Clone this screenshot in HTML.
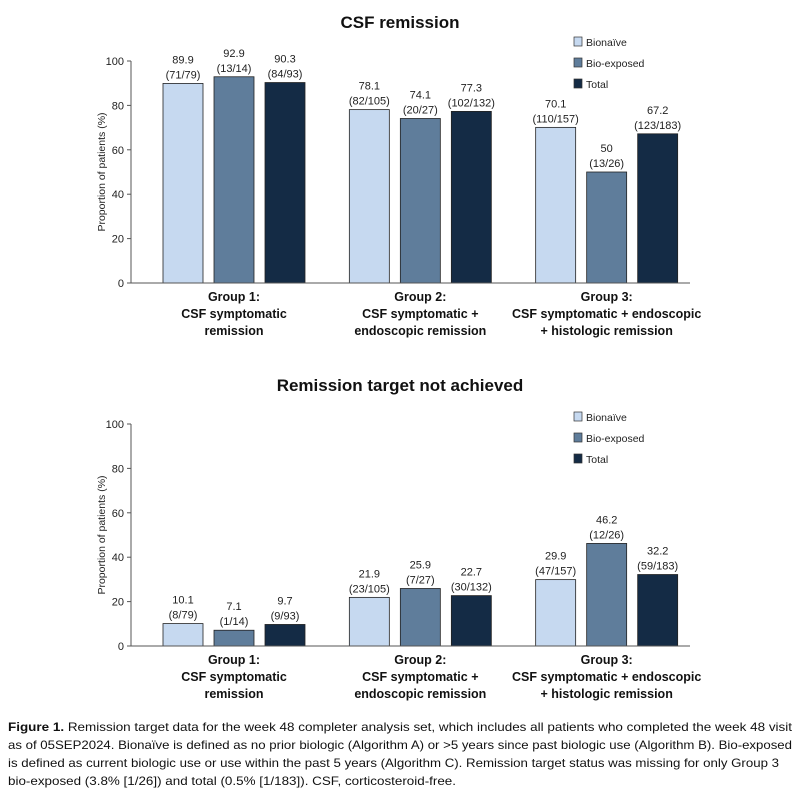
<!DOCTYPE html>
<html><head><meta charset="utf-8"><style>
body{margin:0;background:#fff;}
svg{display:block;font-family:"Liberation Sans",sans-serif;}
</style></head><body>
<svg id="fig" width="800" height="800" viewBox="0 0 800 800" xmlns="http://www.w3.org/2000/svg">
<rect width="800" height="800" fill="#fff"/>
<g id="c1"></g>
<g id="c2"></g>
<g font-size="12" fill="#111">
<text x="8" y="731" textLength="784" lengthAdjust="spacingAndGlyphs"><tspan font-weight="bold">Figure 1.</tspan> Remission target data for the week 48 completer analysis set, which includes all patients who completed the week 48 visit</text>
<text x="8" y="749" textLength="784" lengthAdjust="spacingAndGlyphs">as of 05SEP2024. Bionaïve is defined as no prior biologic (Algorithm A) or &gt;5 years since past biologic use (Algorithm B). Bio-exposed</text>
<text x="8" y="767" textLength="771" lengthAdjust="spacingAndGlyphs">is defined as current biologic use or use within the past 5 years (Algorithm C). Remission target status was missing for only Group 3</text>
<text x="8" y="785" textLength="448" lengthAdjust="spacingAndGlyphs">bio-exposed (3.8% [1/26]) and total (0.5% [1/183]). CSF, corticosteroid-free.</text>
</g>
</svg>
<script>
const groups = [["Group 1:","CSF symptomatic","remission"],["Group 2:","CSF symptomatic +","endoscopic remission"],["Group 3:","CSF symptomatic + endoscopic","+ histologic remission"]];
const seriesNames = ["Bionaïve","Bio-exposed","Total"];
const yTicks = [0,20,40,60,80,100];
const remBionaive = [89.9,78.1,70.1];
const remBioexposed = [92.9,74.1,50];
const remTotal = [90.3,77.3,67.2];
const remFrac = [["(71/79)","(13/14)","(84/93)"],["(82/105)","(20/27)","(102/132)"],["(110/157)","(13/26)","(123/183)"]];
const notBionaive = [10.1,21.9,29.9];
const notBioexposed = [7.1,25.9,46.2];
const notTotal = [9.7,22.7,32.2];
const notFrac = [["(8/79)","(1/14)","(9/93)"],["(23/105)","(7/27)","(30/132)"],["(47/157)","(12/26)","(59/183)"]];
const colors = ["#c6d9f0","#5f7d9b","#142b45"];
const NS="http://www.w3.org/2000/svg";
function mk(p,t,a){const e=document.createElementNS(NS,t);for(const k in a)e.setAttribute(k,a[k]);p.appendChild(e);return e;}
function chart(gid,title,titleY,y0,legY,series,fracs){
  const g=document.getElementById(gid);
  const yS=v=>y0-v*2.22;
  const ax=131, ax2=690, gw=(ax2-ax)/3;
  const xS=(gi,si)=>ax+gi*gw+32+si*51;
  let t=mk(g,'text',{x:400,y:titleY,'text-anchor':'middle','font-size':17,'font-weight':'bold',fill:'#111'});
  
  
  t.textContent=title;
  let yl=mk(g,'text',{transform:`translate(105,${y0-111}) rotate(-90)`,'text-anchor':'middle','font-size':10.5,fill:'#222'});
  
  
  yl.textContent='Proportion of patients (%)';
  yTicks.forEach(v=>{
    mk(g,'line',{x1:ax-4,x2:ax,y1:yS(v),y2:yS(v),stroke:'#555'});
    const tl=mk(g,'text',{x:ax-7,y:yS(v)+4,'text-anchor':'end','font-size':11,fill:'#222'});
    
    
    tl.textContent=v;
  });
  series.forEach((vals,si)=>{
    vals.forEach((v,gi)=>{
      const x=xS(gi,si);
      const r=mk(g,'rect',{x:x,y:yS(v),width:40,height:y0-yS(v),fill:colors[si],stroke:'#222','stroke-width':0.8});
      
      
      const l1=mk(g,'text',{x:x+20,y:yS(v)-20,'text-anchor':'middle','font-size':11,fill:'#222'});
      
      
      l1.textContent=v;
      const l2=mk(g,'text',{x:x+20,y:yS(v)-5,'text-anchor':'middle','font-size':11,fill:'#222'});
      
      
      l2.textContent=fracs[gi][si];
    });
  });
  mk(g,'line',{x1:ax,x2:ax,y1:yS(100),y2:y0,stroke:'#555'});
  mk(g,'line',{x1:ax,x2:ax2,y1:y0,y2:y0,stroke:'#555'});
  groups.forEach((lines,gi)=>{
    const cx=xS(gi,1)+20;
    lines.forEach((s,li)=>{
      const tx=mk(g,'text',{x:cx,y:y0+18+li*17,'text-anchor':'middle','font-size':12.5,'font-weight':'bold',fill:'#111'});
      
      
      tx.textContent=s;
    });
  });
  seriesNames.forEach((n,si)=>{
    const y=legY+si*21;
    const lg=mk(g,'g',{});
    
    
    mk(lg,'rect',{x:574,y:y-5,width:8,height:9,fill:colors[si],stroke:'#333','stroke-width':0.7});
    const tx=mk(lg,'text',{x:586,y:y+4,'font-size':10.5,fill:'#222'});
    tx.textContent=n;
  });
}
chart('c1','CSF remission',28,283,42,[remBionaive,remBioexposed,remTotal],remFrac);
chart('c2','Remission target not achieved',391,646,417,[notBionaive,notBioexposed,notTotal],notFrac);
</script>
</body></html>
